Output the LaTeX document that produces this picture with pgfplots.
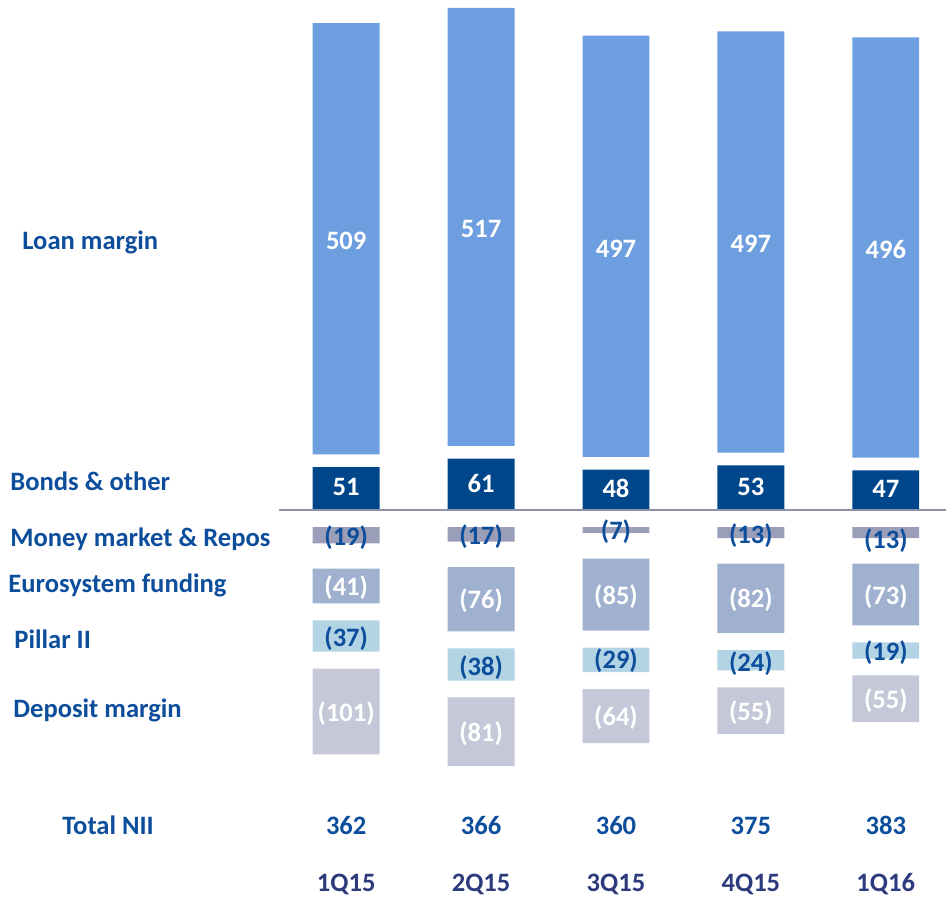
\documentclass[border=0pt]{standalone}
\usepackage{pgfplots}
\pgfplotsset{compat=1.18}
\usepackage{pgfplotstable}
\usepackage{fontspec}
\setmainfont{Carlito}

\definecolor{loanc}{HTML}{6D9EDF}
\definecolor{bondc}{HTML}{00468B}
\definecolor{mmc}{HTML}{9A9EB9}
\definecolor{euc}{HTML}{9FB1CF}
\definecolor{pilc}{HTML}{B2D4E4}
\definecolor{depc}{HTML}{C4C8D9}
\definecolor{lblue}{HTML}{0D4E9C}
\definecolor{navy}{HTML}{2D3A7C}
\definecolor{linec}{HTML}{8E90AE}

% above the line, from zero up: bonds, gap, loan
\pgfplotstableread{
x  bo ge lo
0  51 15 509
1  61 15 517
2  48 15 497
3  53 15 497
4  47 15 496
}\pos

% below the line, from zero down: gap, money market, gap, eurosystem, gap, pillar, gap, deposit
\pgfplotstableread{
x  gd  mm  gc  eu  gb  pil ga  dep
0 -20 -19 -30 -41 -20 -37 -20 -101
1 -20 -17 -30 -76 -20 -38 -20 -81
2 -20  -7 -30 -85 -20 -29 -20 -64
3 -20 -13 -30 -82 -20 -24 -20 -55
4 -20 -13 -30 -73 -20 -19 -20 -55
}\neg

% values and the heights where their labels sit
\pgfplotstableread{
x lo  bo mm eu pil dep ylo   ybo  ymm  yeu    ypil   ydep   tot ytot
0 509 51 19 41 37 101 318   27   -32  -91.5  -151.5 -239.5 362 -382.4
1 517 61 17 76 38  81 332   32   -31  -107   -185.5 -263.5 366 -382.4
2 497 48  7 85 29  64 309   25.5 -25  -101.5 -178   -245   360 -382.4
3 497 53 13 82 24  55 314   28   -30  -106   -180.5 -238.5 375 -382.4
4 496 47 13 73 19  55 307.5 25   -36  -101.5 -168   -224.5 383 -382.4
}\labels

\pgfplotsset{
  frame/.style={
    scale only axis, width=473.5pt, height=450pt,
    xmin=-2.5667, xmax=4.4481, ymin=-459.1, ymax=602.2,
    hide axis, clip=false,
    /pgf/number format/assume math mode=true,
  },
  vlabel/.style={draw=none, point meta=explicit,
    nodes near coords align={anchor=center},
    every node near coord/.append style={text=#1, inner sep=0pt}},
}

\begin{document}
\fontsize{13.3}{15}\selectfont\bfseries
\begin{tikzpicture}
\begin{axis}[frame, ybar stacked, bar width=0.4963]
\addplot[draw=none, fill=bondc] table[x=x,y=bo]{\pos};
\addplot[draw=none, fill=none]  table[x=x,y=ge]{\pos};
\addplot[draw=none, fill=loanc] table[x=x,y=lo]{\pos};
\end{axis}

\begin{axis}[frame, ybar stacked, bar width=0.4963]
\addplot[draw=none, fill=none]  table[x=x,y=gd]{\neg};
\addplot[draw=none, fill=mmc]   table[x=x,y=mm]{\neg};
\addplot[draw=none, fill=none]  table[x=x,y=gc]{\neg};
\addplot[draw=none, fill=euc]   table[x=x,y=eu]{\neg};
\addplot[draw=none, fill=none]  table[x=x,y=gb]{\neg};
\addplot[draw=none, fill=pilc]  table[x=x,y=pil]{\neg};
\addplot[draw=none, fill=none]  table[x=x,y=ga]{\neg};
\addplot[draw=none, fill=depc]  table[x=x,y=dep]{\neg};
\end{axis}

\begin{axis}[frame]
\path (rel axis cs:0,0) rectangle (rel axis cs:1,1);
\addplot[linec, line width=0.8pt] coordinates {(-0.4978,0) (4.4481,0)};

\addplot[vlabel=white, nodes near coords] table[x=x,y=ylo,meta=lo]{\labels};
\addplot[vlabel=white, nodes near coords] table[x=x,y=ybo,meta=bo]{\labels};
\addplot[vlabel=lblue, nodes near coords={(\pgfmathprintnumber{\pgfplotspointmeta})}] table[x=x,y=ymm,meta=mm]{\labels};
\addplot[vlabel=white, nodes near coords={(\pgfmathprintnumber{\pgfplotspointmeta})}] table[x=x,y=yeu,meta=eu]{\labels};
\addplot[vlabel=lblue, nodes near coords={(\pgfmathprintnumber{\pgfplotspointmeta})}] table[x=x,y=ypil,meta=pil]{\labels};
\addplot[vlabel=white, nodes near coords={(\pgfmathprintnumber{\pgfplotspointmeta})}] table[x=x,y=ydep,meta=dep]{\labels};

\addplot[draw=none, point meta=explicit, nodes near coords, nodes near coords align={anchor=base},
  every node near coord/.append style={text=lblue, inner sep=0pt}]
  table[x=x,y=ytot,meta=tot]{\labels};
\addplot[draw=none, point meta=explicit symbolic, nodes near coords, nodes near coords align={anchor=base},
  every node near coord/.append style={text=navy, inner sep=0pt}]
  table[x=x,y=yq,meta=q]{
x yq q
0 -450 1Q15
1 -450 2Q15
2 -450 3Q15
3 -450 4Q15
4 -450 1Q16
};

\begin{scope}[every node/.style={anchor=base west, inner sep=0pt, text=lblue}]
\node at (axis cs:-2.4037,308.3)  {Loan margin};
\node at (axis cs:-2.4926,23.2)   {Bonds \& other};
\node at (axis cs:-2.4926,-42.5)  {Money market \& Repos};
\node at (axis cs:-2.5074,-97.4)  {Eurosystem funding};
\node at (axis cs:-2.4630,-163.4) {Pillar II};
\node at (axis cs:-2.4704,-244.8) {Deposit margin};
\node at (axis cs:-2.1074,-382.4) {Total NII};
\end{scope}
\end{axis}
\end{tikzpicture}
\end{document}
